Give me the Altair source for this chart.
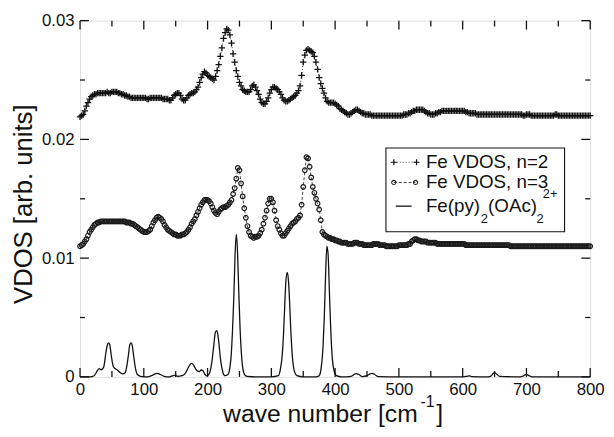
import altair as alt
import pandas as pd

# ---------------- data ----------------
wave = [i * 2.5 for i in range(321)]   # 0 ... 800 cm^-1

vdos_n2 = [
    .0219, .0220, .0221, .0224, .0228, .0231, .0234, .0236, .0237, .0238, .0238, .0239, .0239, .0239, .0239, .0239, .0239, .0240, .0239, .0239,
    .0240, .0240, .0240, .0240, .0239, .0239, .0238, .0238, .0237, .0237, .0236, .0236, .0235, .0235, .0235, .0235, .0235, .0235, .0235, .0235,
    .0235, .0235, .0234, .0234, .0235, .0235, .0235, .0235, .0235, .0235, .0235, .0235, .0234, .0234, .0234, .0234, .0233, .0233, .0235, .0237,
    .0238, .0239, .0239, .0237, .0234, .0233, .0233, .0235, .0237, .0238, .0239, .0239, .0240, .0242, .0244, .0248, .0252, .0255, .0257, .0256,
    .0254, .0253, .0252, .0251, .0250, .0253, .0258, .0263, .0270, .0277, .0285, .0290, .0293, .0292, .0288, .0281, .0272, .0265, .0258, .0253,
    .0248, .0245, .0242, .0241, .0240, .0240, .0240, .0242, .0245, .0246, .0244, .0241, .0238, .0234, .0231, .0230, .0230, .0232, .0235, .0239,
    .0242, .0244, .0244, .0243, .0242, .0240, .0238, .0235, .0233, .0232, .0232, .0233, .0234, .0235, .0236, .0237, .0239, .0241, .0245, .0254,
    .0265, .0271, .0275, .0276, .0275, .0274, .0273, .0270, .0265, .0259, .0252, .0247, .0243, .0239, .0235, .0232, .0231, .0231, .0231, .0231,
    .0230, .0229, .0228, .0226, .0225, .0224, .0223, .0222, .0221, .0221, .0222, .0223, .0224, .0225, .0225, .0224, .0223, .0222, .0222, .0221,
    .0221, .0221, .0221, .0220, .0220, .0220, .0220, .0220, .0220, .0220, .0220, .0220, .0220, .0220, .0220, .0220, .0220, .0220, .0220, .0220,
    .0220, .0220, .0220, .0221, .0221, .0221, .0222, .0222, .0223, .0224, .0224, .0225, .0225, .0225, .0225, .0225, .0224, .0223, .0222, .0222,
    .0221, .0221, .0221, .0222, .0222, .0223, .0223, .0224, .0224, .0224, .0224, .0224, .0224, .0224, .0224, .0224, .0224, .0224, .0224, .0224,
    .0224, .0224, .0223, .0223, .0222, .0222, .0222, .0222, .0222, .0221, .0221, .0221, .0221, .0221, .0221, .0221, .0221, .0221, .0221, .0221,
    .0221, .0221, .0221, .0221, .0221, .0221, .0221, .0221, .0221, .0221, .0221, .0221, .0221, .0221, .0221, .0221, .0221, .0221, .0220, .0220,
    .0221, .0221, .0221, .0220, .0220, .0220, .0220, .0220, .0220, .0220, .0220, .0220, .0220, .0220, .0220, .0220, .0220, .0220, .0221, .0221,
    .0220, .0220, .0220, .0220, .0220, .0220, .0220, .0220, .0220, .0220, .0220, .0220, .0220, .0220, .0220, .0220, .0220, .0220, .0220, .0220,
    .0220,
]

vdos_n3 = [
    .0110, .0111, .0112, .0114, .0116, .0119, .0122, .0124, .0126, .0128, .0129, .0130, .0130, .0131, .0131, .0131, .0131, .0131, .0131, .0131,
    .0131, .0131, .0131, .0131, .0131, .0131, .0131, .0131, .0131, .0130, .0130, .0130, .0129, .0129, .0128, .0127, .0126, .0125, .0124, .0123,
    .0122, .0122, .0122, .0123, .0124, .0127, .0130, .0132, .0134, .0135, .0134, .0133, .0131, .0128, .0126, .0124, .0123, .0122, .0121, .0120,
    .0120, .0119, .0119, .0119, .0120, .0120, .0121, .0122, .0124, .0126, .0129, .0131, .0133, .0136, .0139, .0142, .0145, .0147, .0149, .0149,
    .0149, .0148, .0146, .0143, .0140, .0138, .0137, .0139, .0141, .0142, .0143, .0143, .0144, .0145, .0147, .0149, .0154, .0159, .0167, .0176,
    .0174, .0163, .0152, .0142, .0134, .0127, .0122, .0119, .0118, .0117, .0118, .0118, .0119, .0121, .0124, .0129, .0134, .0140, .0146, .0150,
    .0150, .0147, .0140, .0132, .0127, .0124, .0121, .0119, .0119, .0121, .0123, .0125, .0127, .0129, .0130, .0131, .0133, .0134, .0136, .0145,
    .0160, .0174, .0185, .0184, .0177, .0168, .0160, .0155, .0150, .0146, .0141, .0132, .0122, .0120, .0119, .0118, .0117, .0117, .0116, .0116,
    .0115, .0115, .0114, .0114, .0113, .0113, .0113, .0113, .0112, .0112, .0112, .0112, .0113, .0113, .0113, .0112, .0112, .0112, .0111, .0111,
    .0111, .0111, .0111, .0111, .0112, .0112, .0112, .0112, .0111, .0111, .0111, .0111, .0110, .0110, .0110, .0110, .0110, .0110, .0110, .0110,
    .0111, .0111, .0111, .0111, .0111, .0111, .0112, .0112, .0114, .0115, .0116, .0116, .0115, .0115, .0114, .0114, .0114, .0114, .0113, .0113,
    .0113, .0113, .0113, .0113, .0112, .0112, .0112, .0112, .0112, .0112, .0112, .0112, .0112, .0112, .0112, .0112, .0112, .0112, .0112, .0112,
    .0112, .0112, .0111, .0111, .0111, .0111, .0111, .0111, .0111, .0111, .0111, .0111, .0111, .0111, .0111, .0111, .0111, .0111, .0111, .0111,
    .0111, .0111, .0111, .0111, .0111, .0111, .0111, .0111, .0111, .0111, .0110, .0110, .0110, .0110, .0110, .0110, .0110, .0110, .0110, .0110,
    .0110, .0110, .0110, .0110, .0110, .0110, .0110, .0110, .0110, .0110, .0110, .0110, .0110, .0110, .0110, .0110, .0110, .0110, .0110, .0110,
    .0110, .0110, .0110, .0110, .0110, .0110, .0110, .0110, .0110, .0110, .0110, .0110, .0110, .0110, .0110, .0110, .0110, .0110, .0110, .0110,
    .0110,
]

mol_x = [0, 15, 22, 27, 30, 33, 37, 41, 43, 45, 47, 49, 52, 55, 58, 62, 67, 70,
         73, 76, 78, 80, 82, 84, 87, 90, 95, 105, 112, 118, 121, 126, 132, 140,
         146, 149, 153, 160, 165, 169, 172, 175, 178, 181, 184, 187, 190, 193,
         196, 199, 202, 205, 208, 210, 212, 214, 216, 218, 220, 223, 227, 232,
         235, 237, 239, 241, 243, 245, 247, 249, 251, 253, 255, 258, 262, 280,
         300, 311, 314, 317, 319, 321, 323, 325, 327, 329, 331, 333, 336, 340,
         350, 370, 375, 378, 381, 383, 385, 387, 389, 391, 393, 395, 398, 402,
         410, 425, 430, 433, 437, 443, 450, 455, 458, 462, 468, 500, 600, 607,
         610, 614, 640, 645, 648, 650, 653, 658, 690, 696, 700, 704, 710, 800]
mol_y = [0, 0, .0001, .0005, .0007, .0006, .0008, .0022, .0027, .00286, .0026,
         .0018, .0009, .0007, .0006, .0004, .00025, .0003, .0008, .0019, .0027,
         .00286, .0026, .0018, .0007, .0002, .00005, 0, .0001, .00025, .0003,
         .0002, .00005, 0, .0001, .00014, .00005, .0001, .0003, .0007, .0010,
         .00114, .0010, .0007, .0005, .00045, .00058, .0005, .0002, .00008,
         .0002, .0007, .0018, .0028, .0037, .0039, .0036, .0027, .0016, .0006,
         .0001, .0002, .0008, .0018, .0038, .0065, .0101, .0120, .0105, .0070,
         .0040, .0020, .0008, .0002, .00005, 0, 0, .0001, .0006, .0018, .0035,
         .0060, .0082, .0088, .0080, .0058, .0034, .0017, .0005, .0001, 0, 0,
         .0001, .0007, .0025, .0050, .0085, .0110, .0103, .0072, .0042, .0020,
         .0006, .0001, 0, .00005, .00022, .00028, .0002, .00003, .0001, .00025,
         .0003, .0002, .00002, 0, 0, .00005, .00008, .00003, 0, .0001, .0003,
         .00036, .00025, .00005, 0, .0001, .00022, .0001, 0, 0]

x_major = list(range(0, 801, 100))
x_minor = list(range(50, 800, 100))
y_major = [0, 0.01, 0.02, 0.03]
y_minor = [0.005, 0.015, 0.025]

label_n2 = "Fe VDOS, n=2"
label_n3 = "Fe VDOS, n=3"

# ---------------- chart ----------------
W, H = 517, 361
FONT = "Liberation Sans"
INK = "#111111"

xs = alt.Scale(domain=[0, 800], nice=False, zero=False)
ys = alt.Scale(domain=[0, 0.03], nice=False, zero=False)

x_axis = alt.Axis(values=x_major, title=None, ticks=False, tickSize=0, domain=False,
                  grid=False, labelFontSize=17, labelFont=FONT, labelColor=INK,
                  labelPadding=5, labelFlush=False, labelOverlap=False)
y_axis = alt.Axis(values=y_major, title=None, ticks=False, tickSize=0, domain=False,
                  grid=False, labelFontSize=17, labelFont=FONT, labelColor=INK,
                  labelPadding=6, labelFlush=False, labelOverlap=False,
                  labelExpr="datum.value == 0 ? '0' : format(datum.value, '.2f')")

X = alt.X("x:Q", scale=xs, axis=x_axis)
Y = alt.Y("y:Q", scale=ys, axis=y_axis)

df2 = pd.DataFrame({"x": wave, "y": vdos_n2})
df3 = pd.DataFrame({"x": wave, "y": vdos_n3})
dfm = pd.DataFrame({"x": mol_x, "y": mol_y})

PLUS = "M-1,0L1,0M0,-1L0,1"

n2_line = alt.Chart(df2).mark_line(color=INK, strokeWidth=0.8, strokeDash=[1, 2]).encode(x=X, y=Y)
n2_pts = alt.Chart(df2).mark_point(shape=PLUS, size=42, filled=False, color=INK,
                                   strokeWidth=1.3, opacity=1).encode(x=X, y=Y)
n3_line = alt.Chart(df3).mark_line(color=INK, strokeWidth=0.8, strokeDash=[3, 2]).encode(x=X, y=Y)
n3_pts = alt.Chart(df3).mark_point(shape="circle", size=22, filled=False, color="#1a1a1a",
                                   strokeWidth=1.2, opacity=1).encode(x=X, y=Y)
mol_line = alt.Chart(dfm).mark_line(color=INK, strokeWidth=1.3, interpolate="monotone").encode(x=X, y=Y)

# inward ticks on all four sides
dfxM = pd.DataFrame({"x": x_major})
dfxm = pd.DataFrame({"x": x_minor})
dfyM = pd.DataFrame({"y": y_major})
dfym = pd.DataFrame({"y": y_minor})
rule = dict(color=INK, strokeWidth=1.3)
ticks = [
    alt.Chart(dfxM).mark_rule(**rule).encode(x=X, y=alt.value(H), y2=alt.value(H - 9)),
    alt.Chart(dfxm).mark_rule(**rule).encode(x=X, y=alt.value(H), y2=alt.value(H - 6)),
    alt.Chart(dfxM).mark_rule(**rule).encode(x=X, y=alt.value(0), y2=alt.value(9)),
    alt.Chart(dfxm).mark_rule(**rule).encode(x=X, y=alt.value(0), y2=alt.value(6)),
    alt.Chart(dfyM).mark_rule(**rule).encode(y=Y, x=alt.value(0), x2=alt.value(9)),
    alt.Chart(dfym).mark_rule(**rule).encode(y=Y, x=alt.value(0), x2=alt.value(5)),
    alt.Chart(dfyM).mark_rule(**rule).encode(y=Y, x=alt.value(W), x2=alt.value(W - 9)),
    alt.Chart(dfym).mark_rule(**rule).encode(y=Y, x=alt.value(W), x2=alt.value(W - 5)),
]

dummy = pd.DataFrame({"d": [0]})


def txt(s, x, y, size, baseline="middle", align="left", angle=0):
    kw = dict(text=s, font=FONT, fontSize=size, align=align, baseline=baseline, color=INK)
    if angle:
        kw["angle"] = angle
    return alt.Chart(dummy).mark_text(**kw).encode(x=alt.value(x), y=alt.value(y))


def pt(x, y, **kw):
    return alt.Chart(dummy).mark_point(opacity=1, **kw).encode(x=alt.value(x), y=alt.value(y))


def seg(x1, x2, y, **kw):
    return alt.Chart(dummy).mark_rule(color=INK, **kw).encode(
        x=alt.value(x1), x2=alt.value(x2), y=alt.value(y))


# legend box
r1, r2, r3 = 143.5, 164, 188
legend = [
    alt.Chart(dummy).mark_rect(fill="white", stroke=INK, strokeWidth=1.1).encode(
        x=alt.value(310), x2=alt.value(491), y=alt.value(129), y2=alt.value(214)),
    seg(318, 341, r1, strokeWidth=0.8, strokeDash=[1, 2]),
    pt(318, r1, shape=PLUS, size=40, filled=False, color=INK, strokeWidth=1.2),
    pt(341, r1, shape=PLUS, size=40, filled=False, color=INK, strokeWidth=1.2),
    seg(318, 340, r2, strokeWidth=0.8, strokeDash=[3, 2]),
    pt(318, r2, shape="circle", size=18, filled=False, color="#222222", strokeWidth=1.1),
    pt(340, r2, shape="circle", size=18, filled=False, color="#222222", strokeWidth=1.1),
    seg(320, 336, r3, strokeWidth=1.3),
    txt(label_n2, 350.5, r1, 19),
    txt(label_n3, 350.5, r2, 19),
    txt("Fe(py)", 350.5, r3, 19),
    txt("2", 406, r3 + 13, 13),
    txt("(OAc)", 413.5, r3, 19),
    txt("2", 462.5, r3 + 13, 13),
    txt("2+", 469, r3 - 12.5, 13),
]

# axis titles
titles = [
    txt("VDOS [arb. units]", -49, 186, 26, baseline="alphabetic", align="center", angle=270),
    txt("wave number [cm", 145, 407, 25, baseline="alphabetic"),
    txt("-1", 345, 392, 16, baseline="alphabetic"),
    txt("]", 361, 407, 25, baseline="alphabetic"),
]

chart = alt.layer(
    mol_line, n3_line, n3_pts, n2_line, n2_pts, *ticks, *legend, *titles
).properties(
    width=W, height=H,
    autosize=alt.AutoSizeParams(type="none"),
    padding={"left": 73, "top": 10, "right": 16, "bottom": 50},
).configure_view(
    stroke=INK, strokeWidth=1.6
).configure(background="white")

chart.save("out.html", embed_options={"renderer": "svg", "actions": False})
